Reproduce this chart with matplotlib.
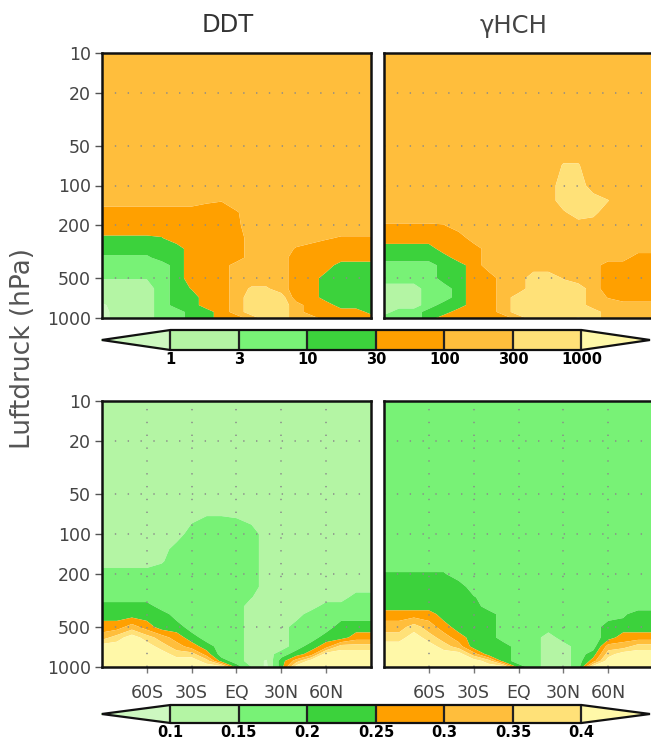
import numpy as np
import matplotlib
matplotlib.use("Agg")
import matplotlib.pyplot as plt
from matplotlib.colors import ListedColormap

# ---------------- data ----------------
lats = [-90, -80, -70, -60, -50, -40, -30, -20, -10, 0, 10, 20, 30, 40, 50, 60, 70, 80, 90]
plevs = [10, 50, 70, 100, 130, 160, 200, 250, 300, 350, 400, 500, 600, 700, 800, 900, 1000]

# upper row (log-scaled classes), rows = plevs, cols = lats
ddt_top = [
    [170]*19,
    [170]*19,
    [170]*19,
    [170]*19,
    [170, 170, 170, 170, 170, 170, 170, 120, 105, 170, 170, 170, 170, 170, 170, 170, 170, 170, 170],
    [55, 55, 55, 55, 55, 55, 55, 55, 55, 90, 170, 170, 170, 170, 170, 170, 170, 170, 170],
    [55, 55, 55, 55, 55, 55, 55, 55, 55, 80, 170, 170, 170, 170, 170, 170, 170, 170, 170],
    [25, 25, 25, 25, 28, 55, 55, 55, 55, 55, 170, 170, 170, 170, 170, 110, 90, 90, 90],
    [17, 17, 17, 17, 17, 17, 55, 55, 55, 55, 170, 170, 170, 90, 55, 55, 55, 55, 55],
    [8, 8, 8, 8, 17, 17, 55, 55, 55, 55, 170, 170, 170, 55, 55, 55, 55, 55, 55],
    [5.5, 5.5, 5.5, 5.5, 5.5, 17, 55, 55, 55, 170, 170, 170, 170, 55, 55, 55, 17, 17, 17],
    [3.2, 3.2, 3.2, 3.2, 5.5, 17, 55, 55, 55, 170, 170, 170, 170, 55, 55, 17, 17, 17, 17],
    [1.7, 1.7, 1.7, 1.7, 5.5, 17, 32, 55, 55, 170, 350, 350, 170, 55, 55, 17, 17, 17, 17],
    [1.7, 1.7, 1.7, 1.7, 5.5, 17, 17, 55, 55, 170, 550, 550, 550, 55, 55, 17, 17, 17, 17],
    [0.8, 1.7, 1.7, 1.7, 5.5, 17, 17, 55, 55, 170, 550, 550, 550, 170, 55, 55, 17, 17, 17],
    [0.6, 1.7, 1.7, 1.7, 5.5, 5.5, 17, 17, 55, 170, 550, 550, 550, 170, 55, 55, 55, 55, 20],
    [0.6, 1.7, 1.7, 1.7, 5.5, 5.5, 17, 17, 55, 55, 170, 550, 550, 170, 170, 55, 55, 55, 55],
]

hch_top = [
    [170]*19,
    [170]*19,
    [170, 170, 170, 170, 170, 170, 170, 170, 170, 170, 170, 170, 320, 320, 170, 170, 170, 170, 170],
    [170, 170, 170, 170, 170, 170, 170, 170, 170, 170, 170, 170, 550, 550, 170, 170, 170, 170, 170],
    [170, 170, 170, 170, 170, 170, 170, 170, 170, 170, 170, 170, 550, 550, 550, 310, 170, 170, 170],
    [170, 170, 170, 170, 170, 170, 170, 170, 170, 170, 170, 170, 250, 550, 400, 170, 170, 170, 170],
    [90, 90, 90, 90, 95, 170, 170, 170, 170, 170, 170, 170, 170, 170, 170, 170, 170, 170, 170],
    [55, 55, 55, 55, 55, 55, 170, 170, 170, 170, 170, 170, 170, 170, 170, 170, 170, 170, 170],
    [17, 17, 17, 17, 55, 55, 55, 170, 170, 170, 170, 170, 170, 170, 170, 170, 170, 170, 170],
    [17, 17, 17, 17, 17, 55, 55, 170, 170, 170, 170, 170, 170, 170, 170, 170, 170, 55, 55],
    [5.5, 5.5, 5.5, 5.5, 17, 17, 55, 170, 170, 170, 170, 170, 170, 170, 170, 55, 55, 55, 55],
    [5.5, 5.5, 5.5, 5.5, 17, 17, 55, 55, 170, 170, 550, 550, 280, 170, 170, 55, 55, 55, 55],
    [1.7, 1.7, 1.7, 5.5, 5.5, 17, 55, 55, 170, 170, 550, 550, 550, 550, 170, 55, 55, 55, 55],
    [1.7, 1.7, 1.7, 5.5, 5.5, 17, 55, 55, 170, 550, 550, 550, 550, 550, 170, 95, 55, 55, 55],
    [1.7, 1.7, 1.7, 5.5, 17, 17, 55, 55, 170, 550, 550, 550, 550, 550, 170, 170, 170, 170, 170],
    [1.7, 5.5, 5.5, 17, 17, 55, 55, 55, 170, 550, 550, 550, 550, 550, 550, 170, 170, 170, 170],
    [5.5, 5.5, 5.5, 17, 55, 55, 55, 55, 55, 170, 550, 550, 550, 1100, 550, 170, 170, 170, 170],
]

# lower row (linear classes)
ddt_bot = [
    [0.125]*19,
    [0.125]*19,
    [0.125, 0.125, 0.125, 0.125, 0.125, 0.125, 0.13, 0.145, 0.145, 0.14, 0.125, 0.125, 0.125, 0.125, 0.125, 0.125, 0.125, 0.125, 0.125],
    [0.125, 0.125, 0.125, 0.125, 0.125, 0.125, 0.175, 0.19, 0.19, 0.19, 0.175, 0.125, 0.125, 0.125, 0.125, 0.125, 0.125, 0.125, 0.125],
    [0.125, 0.125, 0.125, 0.125, 0.125, 0.175, 0.175, 0.175, 0.175, 0.175, 0.175, 0.125, 0.125, 0.125, 0.125, 0.125, 0.125, 0.125, 0.125],
    [0.125, 0.125, 0.125, 0.125, 0.145, 0.175, 0.175, 0.175, 0.175, 0.175, 0.175, 0.125, 0.125, 0.125, 0.125, 0.125, 0.125, 0.125, 0.125],
    [0.175, 0.175, 0.175, 0.175, 0.175, 0.175, 0.175, 0.175, 0.175, 0.175, 0.175, 0.125, 0.125, 0.125, 0.125, 0.125, 0.125, 0.125, 0.125],
    [0.175, 0.175, 0.175, 0.175, 0.175, 0.175, 0.175, 0.175, 0.175, 0.175, 0.175, 0.125, 0.125, 0.125, 0.125, 0.125, 0.125, 0.125, 0.125],
    [0.175, 0.175, 0.175, 0.175, 0.175, 0.175, 0.175, 0.175, 0.175, 0.175, 0.152, 0.125, 0.125, 0.125, 0.125, 0.125, 0.125, 0.175, 0.175],
    [0.225, 0.225, 0.225, 0.225, 0.175, 0.175, 0.175, 0.175, 0.175, 0.175, 0.125, 0.125, 0.125, 0.125, 0.125, 0.175, 0.175, 0.175, 0.175],
    [0.225, 0.225, 0.225, 0.225, 0.225, 0.175, 0.175, 0.175, 0.175, 0.175, 0.125, 0.125, 0.125, 0.125, 0.175, 0.175, 0.175, 0.175, 0.175],
    [0.275, 0.275, 0.325, 0.275, 0.225, 0.225, 0.175, 0.175, 0.175, 0.175, 0.125, 0.125, 0.125, 0.175, 0.175, 0.175, 0.225, 0.225, 0.225],
    [0.325, 0.375, 0.43, 0.375, 0.325, 0.275, 0.225, 0.175, 0.175, 0.175, 0.125, 0.125, 0.125, 0.175, 0.175, 0.225, 0.225, 0.275, 0.275],
    [0.43, 0.43, 0.43, 0.43, 0.375, 0.325, 0.275, 0.225, 0.175, 0.175, 0.125, 0.125, 0.125, 0.175, 0.225, 0.275, 0.375, 0.375, 0.375],
    [0.43, 0.43, 0.43, 0.43, 0.43, 0.375, 0.375, 0.275, 0.175, 0.175, 0.125, 0.125, 0.175, 0.225, 0.275, 0.43, 0.43, 0.43, 0.43],
    [0.43, 0.43, 0.43, 0.43, 0.43, 0.43, 0.43, 0.375, 0.225, 0.175, 0.125, 0.095, 0.225, 0.325, 0.43, 0.43, 0.43, 0.43, 0.43],
    [0.43, 0.43, 0.43, 0.43, 0.43, 0.43, 0.43, 0.43, 0.43, 0.225, 0.15, 0.09, 0.225, 0.43, 0.43, 0.43, 0.43, 0.43, 0.43],
]

hch_bot = [
    [0.175]*19,
    [0.175]*19,
    [0.175]*19,
    [0.175]*19,
    [0.175]*19,
    [0.175]*19,
    [0.205, 0.205, 0.205, 0.205, 0.205, 0.175, 0.175, 0.175, 0.175, 0.175, 0.175, 0.175, 0.175, 0.175, 0.175, 0.175, 0.175, 0.175, 0.175],
    [0.225, 0.225, 0.225, 0.225, 0.225, 0.225, 0.175, 0.175, 0.175, 0.175, 0.175, 0.175, 0.175, 0.175, 0.175, 0.175, 0.175, 0.175, 0.175],
    [0.225, 0.225, 0.225, 0.225, 0.225, 0.225, 0.205, 0.175, 0.175, 0.175, 0.175, 0.175, 0.175, 0.175, 0.175, 0.175, 0.175, 0.175, 0.175],
    [0.225, 0.225, 0.225, 0.225, 0.225, 0.225, 0.225, 0.175, 0.175, 0.175, 0.175, 0.175, 0.175, 0.175, 0.175, 0.175, 0.175, 0.175, 0.175],
    [0.275, 0.275, 0.275, 0.275, 0.225, 0.225, 0.225, 0.225, 0.175, 0.175, 0.175, 0.175, 0.175, 0.175, 0.175, 0.175, 0.19, 0.225, 0.225],
    [0.325, 0.325, 0.375, 0.325, 0.275, 0.225, 0.225, 0.225, 0.175, 0.175, 0.175, 0.175, 0.175, 0.175, 0.175, 0.225, 0.225, 0.225, 0.225],
    [0.375, 0.375, 0.43, 0.375, 0.325, 0.275, 0.225, 0.225, 0.175, 0.175, 0.175, 0.125, 0.175, 0.175, 0.175, 0.225, 0.275, 0.275, 0.275],
    [0.43, 0.43, 0.43, 0.43, 0.375, 0.325, 0.225, 0.225, 0.225, 0.175, 0.175, 0.125, 0.125, 0.175, 0.175, 0.325, 0.325, 0.375, 0.375],
    [0.43, 0.43, 0.43, 0.43, 0.43, 0.43, 0.325, 0.225, 0.225, 0.175, 0.175, 0.125, 0.125, 0.175, 0.225, 0.375, 0.43, 0.43, 0.43],
    [0.43, 0.43, 0.43, 0.43, 0.43, 0.43, 0.43, 0.375, 0.225, 0.175, 0.175, 0.125, 0.125, 0.175, 0.275, 0.43, 0.43, 0.43, 0.43],
    [0.43, 0.43, 0.43, 0.43, 0.43, 0.43, 0.43, 0.43, 0.43, 0.225, 0.175, 0.125, 0.125, 0.175, 0.43, 0.43, 0.43, 0.43, 0.43],
]

top_levels = [1, 3, 10, 30, 100, 300, 1000]
top_labels = ["1", "3", "10", "30", "100", "300", "1000"]
bot_levels = [0.1, 0.15, 0.2, 0.25, 0.3, 0.35, 0.4]
bot_labels = ["0.1", "0.15", "0.2", "0.25", "0.3", "0.35", "0.4"]

titles = ["DDT", "\u03b3HCH"]
ylabel = "Luftdruck (hPa)"
yticks = [10, 20, 50, 100, 200, 500, 1000]
xticks = [-60, -30, 0, 30, 60]
xticklabels = ["60S", "30S", "EQ", "30N", "60N"]

# ---------------- style ----------------
inner_colors = ["#b4f5a4", "#78f276", "#3cd23c", "#ffa000", "#ffbe3c", "#ffe178"]
under_color = "#cdf8c0"
over_color = "#fff8a8"
cmap = ListedColormap(inner_colors)
cmap.set_under(under_color)
cmap.set_over(over_color)

W, H = 651, 740
fig = plt.figure(figsize=(W / 100, H / 100), dpi=100)


def fx(px):
    return px / W


def fy(py):
    return 1 - py / H


LAT, P = np.meshgrid(lats, plevs)

panel_x = [102, 384]
panel_w = 269
rows = [(53, 318), (401, 667)]
fields = [[ddt_top, hch_top], [ddt_bot, hch_bot]]

grid_kw = dict(color="#8a8a8a", lw=1.1, ls=(0, (0.9, 7.5)), zorder=3)

cs_row = []
for r, (y0, y1) in enumerate(rows):
    for c in range(2):
        ax = fig.add_axes([fx(panel_x[c]), fy(y1), fx(panel_w), (y1 - y0) / H])
        Z = np.array(fields[r][c], dtype=float)
        if r == 0:
            cs = ax.contourf(LAT, P, np.log10(Z), levels=np.log10(top_levels),
                             cmap=cmap, extend="both", antialiased=True)
        else:
            cs = ax.contourf(LAT, P, Z, levels=bot_levels,
                             cmap=cmap, extend="both", antialiased=True)
        if c == 0:
            cs_row.append(cs)
        ax.set_yscale("log")
        ax.set_ylim(1000, 10)
        ax.set_xlim(-90, 90)
        ax.minorticks_off()
        for yv in [20, 50, 100, 200, 500]:
            ax.axhline(yv, **grid_kw)
        if r == 1:
            for xv in xticks:
                ax.axvline(xv, **grid_kw)
        for s in ax.spines.values():
            s.set_linewidth(1.8)
            s.set_color("#111111")
            s.set_zorder(5)
        ax.set_yticks(yticks)
        if c == 0:
            ax.set_yticklabels([str(v) for v in yticks])
            ax.tick_params(axis="y", direction="out", length=5, width=1,
                           color="#555555", labelcolor="#444444",
                           labelsize=12.5, pad=3)
        else:
            ax.tick_params(axis="y", length=0, labelleft=False)
        ax.set_xticks(xticks)
        if r == 1:
            ax.set_xticklabels(xticklabels)
            ax.tick_params(axis="x", direction="out", length=4, width=1,
                           color="#777777", labelcolor="#444444",
                           labelsize=12.5, pad=8)
        else:
            ax.tick_params(axis="x", length=0, labelbottom=False)

# colorbars (axes span includes the triangular extensions)
cb_specs = [
    (cs_row[0], 330, 350, np.log10(top_levels), top_labels),
    (cs_row[1], 705, 723, bot_levels, bot_labels),
]
for cs, cy0, cy1, ticks, labels in cb_specs:
    cax = fig.add_axes([fx(101.8), fy(cy1), fx(650 - 101.8), (cy1 - cy0) / H])
    cb = fig.colorbar(cs, cax=cax, orientation="horizontal",
                      extendfrac=0.167, drawedges=True)
    cb.set_ticks(ticks)
    cb.set_ticklabels(labels)
    cb.outline.set_linewidth(1.6)
    cb.outline.set_edgecolor("#111111")
    cb.dividers.set_linewidth(1.6)
    cb.dividers.set_color("#222222")
    cax.tick_params(length=0, pad=1.5, labelsize=10.5)
    for t in cax.get_xticklabels():
        t.set_fontweight("bold")
        t.set_color("black")

# titles and axis label
fig.text(fx(228), fy(25.5), titles[0], ha="center", va="center",
         fontsize=17.5, color="#333333")
fig.text(fx(513), fy(25.5), titles[1], ha="center", va="center",
         fontsize=17.5, color="#444444")
fig.text(fx(23), fy(349), ylabel, rotation=90, ha="center", va="center",
         fontsize=19, color="#555555")

fig.savefig("out.png", dpi=100)
